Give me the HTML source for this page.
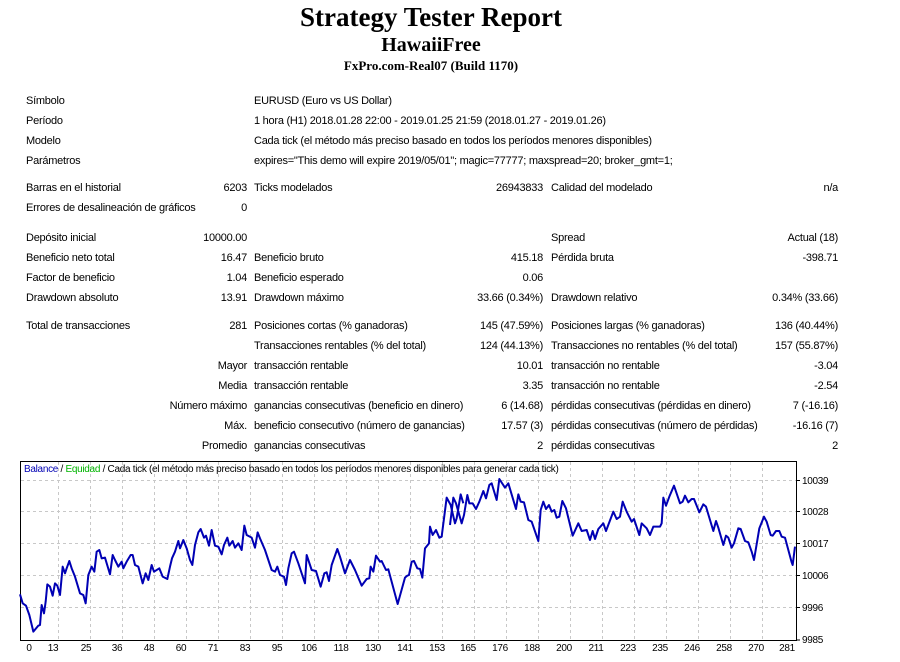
<!DOCTYPE html>
<html><head><meta charset="utf-8"><style>
body{margin:0;width:900px;height:662px;background:#fff;position:relative;overflow:hidden;font-family:"Liberation Sans",sans-serif;font-size:11px;color:#000;letter-spacing:-0.25px}
.t{position:absolute;white-space:nowrap;line-height:13px}
.r{text-align:right}
h1,h2,h3{position:absolute;left:0;width:862px;text-align:center;margin:0;font-family:"Liberation Serif",serif;font-weight:bold;letter-spacing:0}
</style></head><body>
<h1 style="top:2px;font-size:27px">Strategy Tester Report</h1>
<h2 style="top:34px;font-size:20px">HawaiiFree</h2>
<h3 style="top:58px;font-size:13px">FxPro.com-Real07 (Build 1170)</h3>

<div class="t" style="left:26px;top:95px">Símbolo</div><div class="t" style="left:254px;top:95px">EURUSD (Euro vs US Dollar)</div>
<div class="t" style="left:26px;top:115px">Período</div><div class="t" style="left:254px;top:115px">1 hora (H1) 2018.01.28 22:00 - 2019.01.25 21:59 (2018.01.27 - 2019.01.26)</div>
<div class="t" style="left:26px;top:135px">Modelo</div><div class="t" style="left:254px;top:135px">Cada tick (el método más preciso basado en todos los períodos menores disponibles)</div>
<div class="t" style="left:26px;top:155px">Parámetros</div><div class="t" style="left:254px;top:155px">expires="This demo will expire 2019/05/01"; magic=77777; maxspread=20; broker_gmt=1;</div>

<div class="t" style="left:26px;top:182px">Barras en el historial</div><div class="t r" style="right:653px;top:182px">6203</div>
<div class="t" style="left:254px;top:182px">Ticks modelados</div><div class="t r" style="right:357px;top:182px">26943833</div>
<div class="t" style="left:551px;top:182px">Calidad del modelado</div><div class="t r" style="right:62px;top:182px">n/a</div>
<div class="t" style="left:26px;top:202px">Errores de desalineación de gráficos</div><div class="t r" style="right:653px;top:202px">0</div>

<div class="t" style="left:26px;top:232px">Depósito inicial</div><div class="t r" style="right:653px;top:232px">10000.00</div>
<div class="t" style="left:551px;top:232px">Spread</div><div class="t r" style="right:62px;top:232px">Actual (18)</div>
<div class="t" style="left:26px;top:252px">Beneficio neto total</div><div class="t r" style="right:653px;top:252px">16.47</div>
<div class="t" style="left:254px;top:252px">Beneficio bruto</div><div class="t r" style="right:357px;top:252px">415.18</div>
<div class="t" style="left:551px;top:252px">Pérdida bruta</div><div class="t r" style="right:62px;top:252px">-398.71</div>
<div class="t" style="left:26px;top:272px">Factor de beneficio</div><div class="t r" style="right:653px;top:272px">1.04</div>
<div class="t" style="left:254px;top:272px">Beneficio esperado</div><div class="t r" style="right:357px;top:272px">0.06</div>
<div class="t" style="left:26px;top:292px">Drawdown absoluto</div><div class="t r" style="right:653px;top:292px">13.91</div>
<div class="t" style="left:254px;top:292px">Drawdown máximo</div><div class="t r" style="right:357px;top:292px">33.66 (0.34%)</div>
<div class="t" style="left:551px;top:292px">Drawdown relativo</div><div class="t r" style="right:62px;top:292px">0.34% (33.66)</div>

<div class="t" style="left:26px;top:320px">Total de transacciones</div><div class="t r" style="right:653px;top:320px">281</div>
<div class="t" style="left:254px;top:320px">Posiciones cortas (% ganadoras)</div><div class="t r" style="right:357px;top:320px">145 (47.59%)</div>
<div class="t" style="left:551px;top:320px">Posiciones largas (% ganadoras)</div><div class="t r" style="right:62px;top:320px">136 (40.44%)</div>
<div class="t" style="left:254px;top:340px">Transacciones rentables (% del total)</div><div class="t r" style="right:357px;top:340px">124 (44.13%)</div>
<div class="t" style="left:551px;top:340px">Transacciones no rentables (% del total)</div><div class="t r" style="right:62px;top:340px">157 (55.87%)</div>
<div class="t r" style="right:653px;top:360px">Mayor</div><div class="t" style="left:254px;top:360px">transacción rentable</div><div class="t r" style="right:357px;top:360px">10.01</div>
<div class="t" style="left:551px;top:360px">transacción no rentable</div><div class="t r" style="right:62px;top:360px">-3.04</div>
<div class="t r" style="right:653px;top:380px">Media</div><div class="t" style="left:254px;top:380px">transacción rentable</div><div class="t r" style="right:357px;top:380px">3.35</div>
<div class="t" style="left:551px;top:380px">transacción no rentable</div><div class="t r" style="right:62px;top:380px">-2.54</div>
<div class="t r" style="right:653px;top:400px">Número máximo</div><div class="t" style="left:254px;top:400px">ganancias consecutivas (beneficio en dinero)</div><div class="t r" style="right:357px;top:400px">6 (14.68)</div>
<div class="t" style="left:551px;top:400px">pérdidas consecutivas (pérdidas en dinero)</div><div class="t r" style="right:62px;top:400px">7 (-16.16)</div>
<div class="t r" style="right:653px;top:420px">Máx.</div><div class="t" style="left:254px;top:420px">beneficio consecutivo (número de ganancias)</div><div class="t r" style="right:357px;top:420px">17.57 (3)</div>
<div class="t" style="left:551px;top:420px">pérdidas consecutivas (número de pérdidas)</div><div class="t r" style="right:62px;top:420px">-16.16 (7)</div>
<div class="t r" style="right:653px;top:440px">Promedio</div><div class="t" style="left:254px;top:440px">ganancias consecutivas</div><div class="t r" style="right:357px;top:440px">2</div>
<div class="t" style="left:551px;top:440px">pérdidas consecutivas</div><div class="t r" style="right:62px;top:440px">2</div>

<svg style="position:absolute;left:0;top:0" width="900" height="662">
<g stroke="#c8c8c8" stroke-dasharray="3,3" stroke-width="1">
<line x1="21" x2="796" y1="480.5" y2="480.5"/><line x1="21" x2="796" y1="511.5" y2="511.5"/><line x1="21" x2="796" y1="543.5" y2="543.5"/><line x1="21" x2="796" y1="575.5" y2="575.5"/><line x1="21" x2="796" y1="607.5" y2="607.5"/>
<line x1="58.5" x2="58.5" y1="462" y2="640"/><line x1="90.5" x2="90.5" y1="462" y2="640"/><line x1="122.5" x2="122.5" y1="462" y2="640"/><line x1="154.5" x2="154.5" y1="462" y2="640"/><line x1="186.5" x2="186.5" y1="462" y2="640"/><line x1="218.5" x2="218.5" y1="462" y2="640"/><line x1="250.5" x2="250.5" y1="462" y2="640"/><line x1="282.5" x2="282.5" y1="462" y2="640"/><line x1="314.5" x2="314.5" y1="462" y2="640"/><line x1="346.5" x2="346.5" y1="462" y2="640"/><line x1="378.5" x2="378.5" y1="462" y2="640"/><line x1="410.5" x2="410.5" y1="462" y2="640"/><line x1="442.5" x2="442.5" y1="462" y2="640"/><line x1="474.5" x2="474.5" y1="462" y2="640"/><line x1="506.5" x2="506.5" y1="462" y2="640"/><line x1="538.5" x2="538.5" y1="462" y2="640"/><line x1="570.5" x2="570.5" y1="462" y2="640"/><line x1="602.5" x2="602.5" y1="462" y2="640"/><line x1="634.5" x2="634.5" y1="462" y2="640"/><line x1="666.5" x2="666.5" y1="462" y2="640"/><line x1="698.5" x2="698.5" y1="462" y2="640"/><line x1="730.5" x2="730.5" y1="462" y2="640"/><line x1="762.5" x2="762.5" y1="462" y2="640"/>
</g>
<rect x="20.5" y="461.5" width="776" height="179" fill="none" stroke="#000" stroke-width="1"/>
<g stroke="#000"><line x1="797" x2="800" y1="480.5" y2="480.5"/><line x1="797" x2="800" y1="511.5" y2="511.5"/><line x1="797" x2="800" y1="543.5" y2="543.5"/><line x1="797" x2="800" y1="575.5" y2="575.5"/><line x1="797" x2="800" y1="607.5" y2="607.5"/><line x1="797" x2="800" y1="640" y2="640"/></g>
<g fill="none" stroke="#0000b4" stroke-width="2" stroke-linejoin="round">
<polyline vector-effect="non-scaling-stroke" transform="translate(20,455) scale(0.33333)" points="0,418 8,445 18,452 28,480 40,530 55,512 60,510 65,450 72,475 77,440 82,388 90,395 98,422 105,385 112,392 120,420 128,335 135,355 140,340 148,318 155,340 165,365 180,415 190,420 197,445 205,360 215,335 223,350 230,290 238,285 245,310 255,308 270,358 278,300 285,315 295,335 305,320 310,340 320,320 332,300 338,300 345,330 355,335 368,385 377,355 385,375 395,330 402,350 418,340 428,365 442,372 450,335 456,310 465,290 475,258 480,280 490,255 500,280 510,315 517,330 525,270 535,232 542,222 552,248 558,242 567,272 575,225 585,272 595,275 605,298 612,270 622,248 628,272 638,258 645,278 655,265 665,285 673,212 680,240 695,248 705,278 713,232 720,250 735,285 755,345 765,350 772,335 780,360 792,365 798,390 805,340 815,295 822,290 835,325 855,385 860,300 875,345 888,348 902,395 913,355 920,352 927,378 935,330 952,282 960,305 975,355 990,315 1005,345 1025,392 1040,372 1048,370 1052,335 1060,350 1068,302 1080,320 1085,318 1098,345 1105,343 1133,447 1155,368 1162,362 1167,360 1175,320 1182,318 1192,340 1200,342 1207,368 1215,280 1227,265 1230,215 1238,240 1248,225 1258,248 1265,245 1280,128 1292,150 1305,205 1310,190 1322,118 1330,145"/>
<polyline vector-effect="non-scaling-stroke" transform="translate(450,455) scale(0.33333)" points="0,210 10,128 18,145 35,205 42,180 52,120 58,145 68,145 78,162 88,140 100,108 108,130 118,90 125,85 140,135 148,72 165,98 175,85 198,162 205,118 212,140 222,142 235,195 245,200 265,258 272,165 280,140 288,162 297,150 305,170 313,165 320,188 328,185 337,138 348,160 368,242 385,205 395,228 410,225 420,255 428,228 435,252 445,222 460,205 468,228 490,170 500,192 510,185 518,140 530,170 545,200 552,192 568,240 575,205 590,220 600,240 610,215 630,215 635,205 640,128 648,152 658,125 672,92 690,145 698,140 705,122 715,142 725,132 732,132 748,172 760,148 768,155 790,228 798,198 805,218 820,270 828,242 835,248 845,278 852,265 865,220 872,222 885,258 895,262 905,290 912,315 928,220 942,185 950,200 962,240 968,242 978,228 988,228 995,245 1005,248 1025,322 1028,330 1035,275"/>
</g>
<g font-family="Liberation Sans,sans-serif" font-size="10" fill="#000" letter-spacing="-0.3">
<text x="24" y="472"><tspan fill="#0000b4">Balance</tspan> / <tspan fill="#00b400">Equidad</tspan> / Cada tick (el método más preciso basado en todos los períodos menores disponibles para generar cada tick)</text>
<text x="802" y="484">10039</text><text x="802" y="515">10028</text><text x="802" y="547">10017</text><text x="802" y="579">10006</text><text x="802" y="611">9996</text><text x="802" y="643">9985</text>
<g text-anchor="middle">
<text x="29" y="651">0</text><text x="53" y="651">13</text><text x="86" y="651">25</text><text x="117" y="651">36</text><text x="149" y="651">48</text><text x="181" y="651">60</text><text x="213" y="651">71</text><text x="245" y="651">83</text><text x="277" y="651">95</text><text x="309" y="651">106</text><text x="341" y="651">118</text><text x="373" y="651">130</text><text x="405" y="651">141</text><text x="437" y="651">153</text><text x="468" y="651">165</text><text x="500" y="651">176</text><text x="532" y="651">188</text><text x="564" y="651">200</text><text x="596" y="651">211</text><text x="628" y="651">223</text><text x="660" y="651">235</text><text x="692" y="651">246</text><text x="724" y="651">258</text><text x="756" y="651">270</text><text x="787" y="651">281</text>
</g></g>
</svg>
</body></html>
